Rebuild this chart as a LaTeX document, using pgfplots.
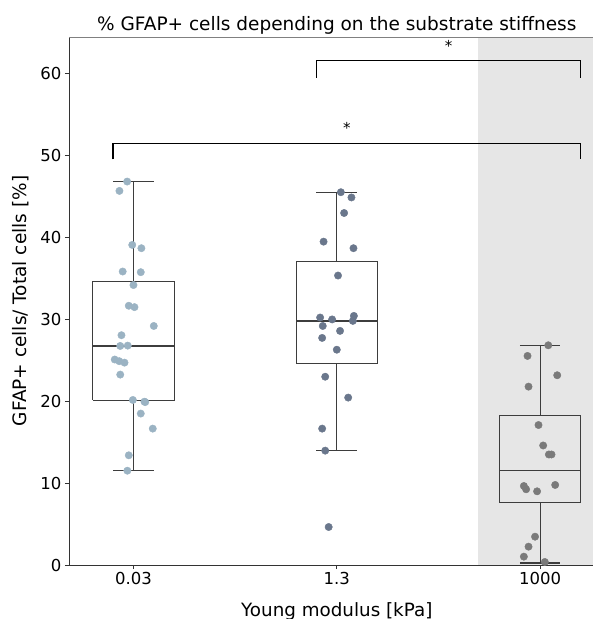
\documentclass[border=0pt]{standalone}
\usepackage{fontspec}
\setmainfont{DejaVu Sans}
\usepackage{pgfplots}
\pgfplotsset{compat=1.18}
\definecolor{ptA}{HTML}{9BB3C3}
\definecolor{ptB}{HTML}{6A778C}
\definecolor{ptC}{HTML}{7A7A7A}
\definecolor{boxline}{HTML}{3D3D3D}
\definecolor{shade}{HTML}{E6E6E6}
\pgfplotsset{bx/.style={boxline, line width=1.25bp, mark=none}}
\begin{document}
\begin{tikzpicture}
\useasboundingbox (0,0) rectangle (593bp,619bp);
\begin{axis}[
    at={(69bp,54bp)}, anchor=south west,
    width=524bp, height=528bp, scale only axis,
    xmin=-0.317, xmax=2.26,
    ymin=0, ymax=64.5,
    xtick={0,1,2}, xticklabels={0.03,1.3,1000},
    ytick={0,10,20,30,40,50,60},
    xtick pos=bottom, ytick pos=left,
    tick align=outside, major tick length=4bp,
    every tick/.style={black!80, line width=0.8bp},
    axis line style={draw=none},
    /pgf/number format/assume math mode=true,
    tick label style={font=\fontsize{16.5bp}{19bp}\selectfont},
    clip=false,
]
% shaded stiff region
\addplot[fill=shade, draw=none] coordinates {(1.695,64.5) (2.26,64.5)} \closedcycle;

% box 0.03 kPa: whiskers 11.52/46.84, quartiles 20.1/34.6, median 26.76
\addplot[bx] coordinates {(-0.2,20.1) (0.2,20.1) (0.2,34.6) (-0.2,34.6) (-0.2,20.1)};
\addplot[bx] coordinates {(-0.2,26.76) (0.2,26.76)};
\addplot[bx] coordinates {(0,34.6) (0,46.84)};
\addplot[bx] coordinates {(0,20.1) (0,11.52)};
\addplot[bx] coordinates {(-0.1,46.84) (0.1,46.84)};
\addplot[bx] coordinates {(-0.1,11.52) (0.1,11.52)};
% box 1.3 kPa
\addplot[bx] coordinates {(0.8,24.64) (1.2,24.64) (1.2,37.1) (0.8,37.1) (0.8,24.64)};
\addplot[bx] coordinates {(0.8,29.82) (1.2,29.82)};
\addplot[bx] coordinates {(1,37.1) (1,45.54)};
\addplot[bx] coordinates {(1,24.64) (1,13.97)};
\addplot[bx] coordinates {(0.9,45.54) (1.1,45.54)};
\addplot[bx] coordinates {(0.9,13.97) (1.1,13.97)};
% box 1000 kPa
\addplot[bx] coordinates {(1.8,7.6) (2.2,7.6) (2.2,18.25) (1.8,18.25) (1.8,7.6)};
\addplot[bx] coordinates {(1.8,11.57) (2.2,11.57)};
\addplot[bx] coordinates {(2,18.25) (2,26.84)};
\addplot[bx] coordinates {(2,7.6) (2,0.24)};
\addplot[bx] coordinates {(1.9,26.84) (2.1,26.84)};
\addplot[bx] coordinates {(1.9,0.24) (2.1,0.24)};

% individual samples
\addplot[only marks, mark=*, mark size=3.7bp, color=ptA] coordinates {
(-0.031,46.84) (-0.069,45.7) (-0.006,39.1) (0.039,38.7) (-0.053,35.85) (0.036,35.77) (0.000,34.2)
(-0.023,31.67) (0.005,31.5) (0.100,29.2) (-0.059,28.07) (-0.065,26.76) (-0.028,26.8) (-0.092,25.1)
(-0.070,24.9) (-0.044,24.72) (-0.065,23.26) (-0.003,20.16) (0.054,19.95) (0.058,19.9) (0.036,18.5)
(0.095,16.66) (-0.023,13.4) (-0.030,11.52)
};
\addplot[only marks, mark=*, mark size=3.7bp, color=ptB] coordinates {
(1.02,45.54) (1.072,44.9) (1.036,43.0) (0.935,39.5) (1.082,38.7) (1.006,35.36) (0.918,30.23)
(0.977,30.0) (1.084,30.43) (1.079,29.82) (0.931,29.2) (1.016,28.6) (0.928,27.74) (1.000,26.3)
(0.943,23.0) (1.056,20.45) (0.928,16.66) (0.943,13.97) (0.96,4.64)
};
\addplot[only marks, mark=*, mark size=3.7bp, color=ptC] coordinates {
(2.04,26.84) (1.938,25.54) (2.084,23.18) (1.943,21.79) (1.992,17.1) (2.015,14.6) (2.043,13.5)
(2.056,13.5) (1.92,9.65) (1.931,9.25) (1.985,9.0) (2.074,9.78) (1.975,3.46) (1.943,2.24)
(1.92,1.02) (2.023,0.37)
};

% significance brackets
\addplot[black, line width=1.3bp] coordinates {(-0.1,49.55) (-0.1,51.5) (2.2,51.5) (2.2,49.55)};
\addplot[black, line width=1.3bp] coordinates {(0.9,59.55) (0.9,61.6) (2.2,61.6) (2.2,59.55)};
\node[anchor=base, inner sep=0pt, font=\fontsize{15bp}{18bp}\selectfont] at (axis cs:1.05,52.75) {*};
\node[anchor=base, inner sep=0pt, font=\fontsize{15bp}{18bp}\selectfont] at (axis cs:1.55,62.75) {*};

% spines
\draw[black!80, line width=0.8bp] (rel axis cs:0,1) -- (rel axis cs:0,0) -- (rel axis cs:1,0);
\draw[black!50, line width=0.8bp] (rel axis cs:0,1) -- (rel axis cs:1,1);

% labels
\node[anchor=base, inner sep=0pt, font=\fontsize{18.5bp}{21bp}\selectfont] at ([yshift=6bp]axis cs:1,64.5) {\% GFAP+ cells depending on the substrate stiffness};
\node[anchor=base, inner sep=0pt, font=\fontsize{18.3bp}{21bp}\selectfont] at ([yshift=-51bp]axis cs:1,0) {Young modulus [kPa]};
\node[anchor=base, inner sep=0pt, rotate=90, font=\fontsize{18.5bp}{21bp}\selectfont] at ([xshift=-42bp]rel axis cs:0,0.5) {GFAP+ cells/ Total cells [\%]};
\end{axis}
\end{tikzpicture}
\end{document}
